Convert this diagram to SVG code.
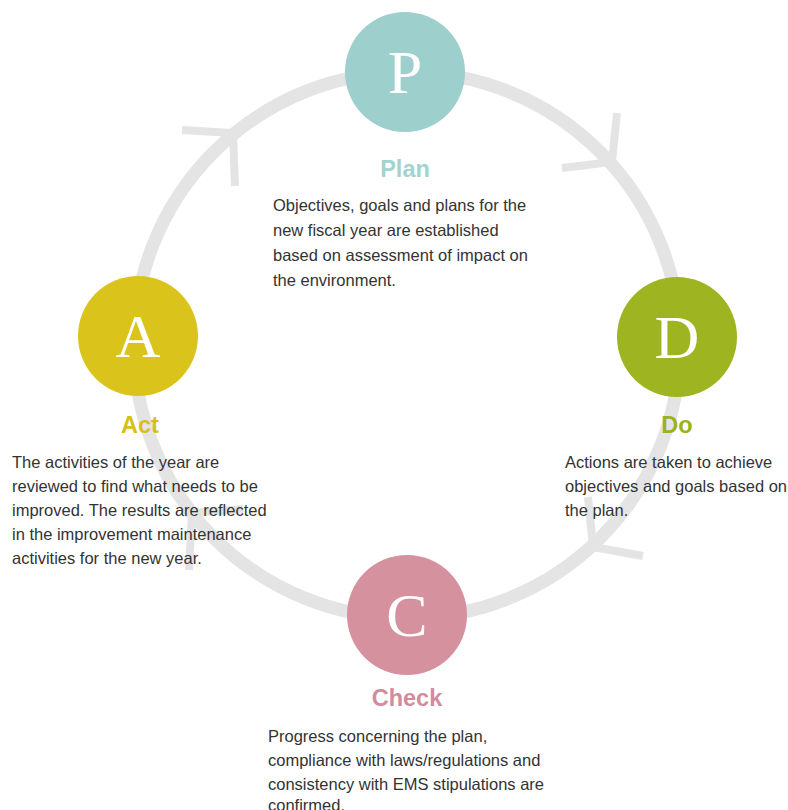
<svg xmlns="http://www.w3.org/2000/svg" width="788" height="810" viewBox="0 0 788 810">
<style>
.ring{fill:none;stroke:#e4e4e4;stroke-width:13}
.arr{fill:none;stroke:#e4e4e4;stroke-width:8;stroke-linecap:butt;stroke-linejoin:miter}
.letter{font-family:"Liberation Serif","Times New Roman",serif;font-size:62px;fill:#ffffff;text-anchor:middle}
.title{font-family:"Liberation Sans",Arial,Helvetica,sans-serif;font-size:23.5px;font-weight:bold;text-anchor:middle}
.body{font-family:"Liberation Sans",Arial,Helvetica,sans-serif;font-size:16.5px;fill:#333333}
</style>
<rect width="788" height="810" fill="#ffffff"/>
<g id="connectors">
<circle class="ring" cx="407" cy="345" r="273"/>
<path class="arr" d="M182,130 L233,133 L235,186"/>
<path class="arr" d="M617,113 L612,162 L562,168"/>
<path class="arr" d="M588,497 L593,547 L643,556"/>
<path class="arr" d="M189,570 L192,513 L243,509"/>
</g>
<g id="plan">
<circle cx="405" cy="72" r="60" fill="#9dcfcc"/>
<text class="letter" x="405" y="93">P</text>
<text class="title" x="405" y="177" fill="#a3d3cf">Plan</text>
<text class="body" x="273" y="211">Objectives, goals and plans for the</text>
<text class="body" x="273" y="236">new fiscal year are established</text>
<text class="body" x="273" y="261">based on assessment of impact on</text>
<text class="body" x="273" y="286">the environment.</text>
</g>
<g id="do">
<circle cx="677" cy="337" r="60" fill="#9fb421"/>
<text class="letter" x="677" y="358">D</text>
<text class="title" x="677" y="433" fill="#9cb21c">Do</text>
<text class="body" x="565" y="468">Actions are taken to achieve</text>
<text class="body" x="565" y="492">objectives and goals based on</text>
<text class="body" x="565" y="516">the plan.</text>
</g>
<g id="check">
<circle cx="407" cy="615" r="60" fill="#d5919e"/>
<text class="letter" x="407" y="636">C</text>
<text class="title" x="407" y="706" fill="#d48b9c">Check</text>
<text class="body" x="268" y="742">Progress concerning the plan,</text>
<text class="body" x="268" y="766">compliance with laws/regulations and</text>
<text class="body" x="268" y="790">consistency with EMS stipulations are</text>
<text class="body" x="268" y="811">confirmed.</text>
</g>
<g id="act">
<circle cx="138" cy="336" r="60" fill="#dac41b"/>
<text class="letter" x="138" y="357">A</text>
<text class="title" x="140" y="433" fill="#d8bf17">Act</text>
<text class="body" x="12" y="468">The activities of the year are</text>
<text class="body" x="12" y="492">reviewed to find what needs to be</text>
<text class="body" x="12" y="516">improved. The results are reflected</text>
<text class="body" x="12" y="540">in the improvement maintenance</text>
<text class="body" x="12" y="564">activities for the new year.</text>
</g>
</svg>
